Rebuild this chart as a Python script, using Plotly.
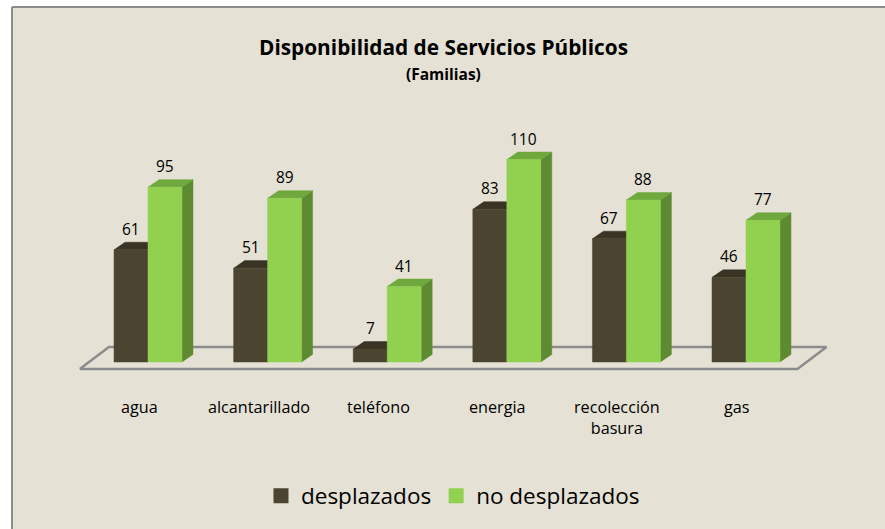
import plotly.graph_objects as go

# ---- data ----
categories = ["agua", "alcantarillado", "teléfono", "energia", "recolección<br>basura", "gas"]
desplazados = [61, 51, 7, 83, 67, 46]
no_desplazados = [95, 89, 41, 110, 88, 77]
series_names = ["desplazados", "no desplazados"]

# ---- styling / geometry parameters ----
W, H = 885, 529
FONT = "Open Sans"
BG = "#E5E1D4"
px_per_cat = 119.6
px_per_val = 1.84
x0_px, base_px = 148, 362          # pixel position of category 0 / value 0
bar_w = 0.284                      # bar width in category units
dx, dy = 0.092, 4.1                # 3-D depth offset (category units, value units)

front_cols = ["#4A4430", "#92D050"]
top_cols = ["#3A3424", "#6FA83C"]
side_cols = ["#332E20", "#5E8B32"]

xr = [-x0_px / px_per_cat, (W - x0_px) / px_per_cat]
yr = [(base_px - H) / px_per_val, base_px / px_per_val]

fig = go.Figure()

# floor (parallelogram outline)
n = len(categories)
fl_front_y, fl_dy, fl_dx = -3.8, 12.0, 0.243
fl_l, fl_r = -0.57, n - 1 + 0.43
fig.add_trace(go.Scatter(
    x=[fl_l, fl_r, fl_r + fl_dx, fl_l + fl_dx, fl_l],
    y=[fl_front_y, fl_front_y, fl_front_y + fl_dy, fl_front_y + fl_dy, fl_front_y],
    mode="lines", line=dict(color="#8C8C8C", width=2.5),
    hoverinfo="skip", showlegend=False))


def faces(values, offset):
    fx, fy, tx, ty, sx, sy = [], [], [], [], [], []
    for i, v in enumerate(values):
        a = i + offset
        b = a + bar_w
        fx += [a, b, b, a, a, None]
        fy += [0, 0, v, v, 0, None]
        tx += [a, b, b + dx, a + dx, a, None]
        ty += [v, v, v + dy, v + dy, v, None]
        sx += [b, b + dx, b + dx, b, b, None]
        sy += [0, dy, v + dy, v, 0, None]
    return (fx, fy), (tx, ty), (sx, sy)


for k, (vals, off) in enumerate([(desplazados, -bar_w), (no_desplazados, 0.0)]):
    front, top, side = faces(vals, off)
    for (xs, ys), col in [(side, side_cols[k]), (top, top_cols[k]), (front, front_cols[k])]:
        fig.add_trace(go.Scatter(
            x=xs, y=ys, mode="lines", fill="toself", fillcolor=col,
            line=dict(color=col, width=0.5), hoverinfo="skip", showlegend=False))
    # legend entry
    fig.add_trace(go.Scatter(
        x=[None], y=[None], mode="markers", name=series_names[k],
        marker=dict(symbol="square", size=15, color=front_cols[k])))
    # value labels
    for i, v in enumerate(vals):
        fig.add_annotation(x=i + off + bar_w / 2, y=v, text=str(v), showarrow=False,
                           yanchor="middle", yshift=21,
                           font=dict(family=FONT, size=15.5, color="#000000"))

# category labels
for i, c in enumerate(categories):
    fig.add_annotation(x=i - 0.075, y=0, text=c, showarrow=False, yanchor="top",
                       yshift=-32, align="center",
                       font=dict(family=FONT, size=16.2, color="#000000"))

# titles
fig.add_annotation(xref="paper", yref="paper", x=443 / W, y=1 - 47 / H,
                   text="<b>Disponibilidad de Servicios Públicos</b>", showarrow=False,
                   xanchor="center", yanchor="middle",
                   font=dict(family=FONT, size=20.8, color="#000000"))
fig.add_annotation(xref="paper", yref="paper", x=443 / W, y=1 - 74 / H,
                   text="<b>(Familias)</b>", showarrow=False,
                   xanchor="center", yanchor="middle",
                   font=dict(family=FONT, size=15.5, color="#000000"))

# white page outside the chart area (top and left), border on top and left
fig.add_shape(type="rect", xref="paper", yref="paper", layer="below",
              x0=-0.01, x1=1.01, y0=1 - 7 / H, y1=1.01,
              fillcolor="#FFFFFF", line=dict(width=0))
fig.add_shape(type="rect", xref="paper", yref="paper", layer="below",
              x0=-0.01, x1=12 / W, y0=-0.01, y1=1.01,
              fillcolor="#FFFFFF", line=dict(width=0))
fig.add_shape(type="line", xref="paper", yref="paper", layer="below",
              x0=12 / W, x1=1.01, y0=1 - 7 / H, y1=1 - 7 / H,
              line=dict(color="#8C8C8C", width=2))
fig.add_shape(type="line", xref="paper", yref="paper", layer="below",
              x0=12 / W, x1=12 / W, y0=-0.01, y1=1 - 7 / H,
              line=dict(color="#8C8C8C", width=2))

fig.update_layout(
    width=W, height=H,
    margin=dict(l=0, r=0, t=0, b=0),
    paper_bgcolor=BG, plot_bgcolor="rgba(0,0,0,0)",
    xaxis=dict(range=xr, visible=False, domain=[0, 1], fixedrange=True),
    yaxis=dict(range=yr, visible=False, domain=[0, 1], fixedrange=True),
    showlegend=True,
    legend=dict(orientation="h", x=453 / W, xanchor="center", y=1 - 496 / H,
                yanchor="middle", bgcolor="rgba(0,0,0,0)",
                font=dict(family=FONT, size=22.5, color="#000000"),
                itemwidth=30, tracegroupgap=0),
    font=dict(family=FONT),
)

fig.write_html("out.html",
               config={"displayModeBar": False},
               post_script="document.body.style.margin='0';"
                           "document.body.style.background='" + BG + "';"
                           "document.body.style.overflow='hidden';"
                           "document.documentElement.style.overflow='hidden';")
